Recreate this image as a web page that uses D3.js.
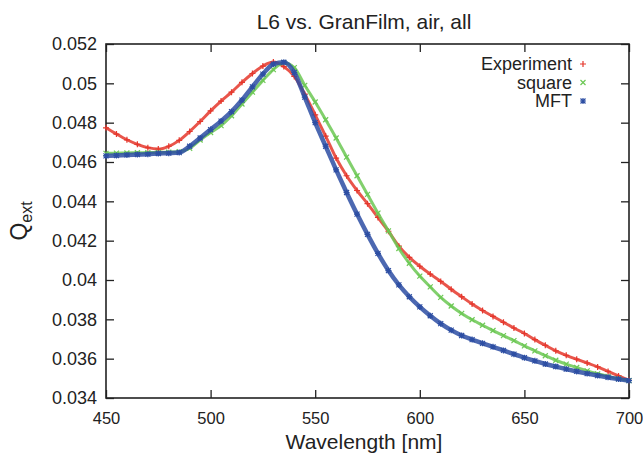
<!DOCTYPE html>
<html>
<head>
<meta charset="utf-8">
<script src="https://cdn.jsdelivr.net/npm/d3@7"></script>
<style>
  body { margin: 0; background: #fff; }
  text { font-family: "Liberation Sans", Arial, Helvetica, sans-serif; fill: #222; }
</style>
</head>
<body>
<div id="chart"></div>
<script>
// wavelengths (nm), one reading every 5 nm
var wavelengths = [450,455,460,465,470,475,480,485,490,495,500,505,510,515,520,525,530,535,540,545,
  550,555,560,565,570,575,580,585,590,595,600,605,610,615,620,625,630,635,640,645,
  650,655,660,665,670,675,680,685,690,695,700];

var experiment = [0.04774,0.04742,0.04713,0.04690,0.04673,0.04666,0.04680,0.04710,0.04755,0.04806,
  0.04860,0.04910,0.04955,0.05005,0.05050,0.05088,0.05108,0.05085,0.05035,0.04945,
  0.04840,0.04732,0.04620,0.04530,0.04455,0.04388,0.04318,0.04248,0.04172,0.04115,
  0.04070,0.04030,0.03993,0.03953,0.03915,0.03878,0.03845,0.03815,0.03785,0.03756,
  0.03728,0.03697,0.03668,0.03640,0.03617,0.03597,0.03578,0.03558,0.03535,0.03512,0.03490];

var square = [0.04644,0.04645,0.04646,0.04647,0.04648,0.04649,0.04650,0.04652,0.04670,0.04712,
  0.04750,0.04785,0.04835,0.04895,0.04955,0.05015,0.05070,0.05105,0.05080,0.04990,
  0.04905,0.04815,0.04722,0.04625,0.04530,0.04435,0.04340,0.04250,0.04160,0.04085,
  0.04020,0.03965,0.03912,0.03868,0.03830,0.03798,0.03770,0.03743,0.03717,0.03692,
  0.03665,0.03640,0.03615,0.03592,0.03572,0.03555,0.03538,0.03523,0.03510,0.03498,0.03488];

var mft = [0.04631,0.04633,0.04636,0.04638,0.04640,0.04643,0.04645,0.04648,0.04680,0.04722,
  0.04765,0.04808,0.04856,0.04915,0.04982,0.05047,0.05098,0.05107,0.05055,0.04930,
  0.04800,0.04680,0.04560,0.04445,0.04335,0.04232,0.04135,0.04048,0.03975,0.03915,
  0.03863,0.03818,0.03778,0.03745,0.03718,0.03697,0.03678,0.03660,0.03642,0.03623,
  0.03605,0.03589,0.03573,0.03560,0.03547,0.03535,0.03524,0.03514,0.03505,0.03496,0.03488];

var xTicks = [450,500,550,600,650,700];
var yTicks = [0.034,0.036,0.038,0.04,0.042,0.044,0.046,0.048,0.05,0.052];

var seriesNames = ["Experiment","square","MFT"];
var seriesColors = ["#e5372c","#6cc854","#2d4ea3"];
var seriesMarks = ["plus","cross","star"];

// size of the graph
var margin = {top: 44, right: 14, bottom: 60, left: 106},
    width = 643 - margin.left - margin.right,
    height = 458 - margin.top - margin.bottom;

var svg = d3.select("#chart")
  .append("svg")
  .attr("width", 643)
  .attr("height", 458);

var g = svg.append("g")
  .attr("transform", "translate(" + margin.left + "," + margin.top + ")");

var x = d3.scaleLinear().domain([450, 700]).range([0, width]);
var y = d3.scaleLinear().domain([0.034, 0.052]).range([height, 0]);

// axes, gnuplot style: inward ticks on all four sides
var fmt = d3.format("~g");
var xAxis = g.append("g")
  .attr("transform", "translate(0," + height + ")")
  .call(d3.axisBottom(x).tickValues(xTicks).tickFormat(fmt).tickSizeInner(-8).tickSizeOuter(0).tickPadding(14));
var yAxis = g.append("g")
  .call(d3.axisLeft(y).tickValues(yTicks).tickFormat(fmt).tickSizeInner(-8).tickSizeOuter(0).tickPadding(9));
g.append("g")
  .call(d3.axisTop(x).tickValues(xTicks).tickFormat("").tickSizeInner(-8).tickSizeOuter(0));
g.append("g")
  .attr("transform", "translate(" + width + ",0)")
  .call(d3.axisRight(y).tickValues(yTicks).tickFormat("").tickSizeInner(-8).tickSizeOuter(0));

g.selectAll(".domain").remove();
g.selectAll(".tick line").attr("stroke", "#222").attr("stroke-width", 1.3);
yAxis.selectAll(".tick text").style("font-size", "18px").style("fill", "#222");
xAxis.selectAll(".tick text").style("font-size", "16.5px").style("fill", "#222");

g.append("rect")
  .attr("width", width)
  .attr("height", height)
  .attr("fill", "none")
  .attr("stroke", "#222")
  .attr("stroke-width", 1.6);

// marker shapes
var markPath = {
  plus: "M-3,0H3M0,-3V3",
  cross: "M-2.5,-2.5L2.5,2.5M-2.5,2.5L2.5,-2.5",
  star: "M-3,0H3M0,-3V3M-2.5,-2.5L2.5,2.5M-2.5,2.5L2.5,-2.5"
};

var series = [experiment, square, mft];
var line = d3.line()
  .x(function(d, i) { return x(wavelengths[i]); })
  .y(function(d) { return y(d); })
  .curve(d3.curveMonotoneX);

series.forEach(function(vals, s) {
  g.append("path")
    .datum(vals)
    .attr("d", line)
    .attr("fill", "none")
    .attr("stroke", seriesColors[s])
    .attr("stroke-width", s == 2 ? 4.5 : 3)
    .attr("stroke-opacity", 0.85);
  g.selectAll(".mk" + s)
    .data(vals)
    .enter()
    .append("path")
    .attr("class", "mk" + s)
    .attr("transform", function(d, i) { return "translate(" + x(wavelengths[i]) + "," + y(d) + ")"; })
    .attr("d", markPath[seriesMarks[s]])
    .attr("stroke", seriesColors[s])
    .attr("stroke-width", 1.2)
    .attr("fill", "none");
});

// legend
var legend = svg.append("g");
seriesNames.forEach(function(name, i) {
  var ly = 64 + i * 18.5;
  legend.append("text")
    .attr("x", 572)
    .attr("y", ly)
    .attr("dy", "0.35em")
    .attr("text-anchor", "end")
    .style("font-size", "18px")
    .text(name);
  legend.append("path")
    .attr("transform", "translate(583," + ly + ")")
    .attr("d", markPath[seriesMarks[i]])
    .attr("stroke", seriesColors[i])
    .attr("stroke-width", 1.2)
    .attr("fill", "none");
});

// title and axis labels
svg.append("text")
  .attr("x", 364)
  .attr("y", 29)
  .attr("text-anchor", "middle")
  .style("font-size", "21px")
  .text("L6 vs. GranFilm, air, all");

svg.append("text")
  .attr("x", 364)
  .attr("y", 449)
  .attr("text-anchor", "middle")
  .style("font-size", "21px")
  .text("Wavelength [nm]");

var ylab = svg.append("text")
  .attr("transform", "translate(27,221) rotate(-90)")
  .attr("text-anchor", "middle")
  .style("font-size", "23px");
ylab.append("tspan").text("Q");
ylab.append("tspan").attr("dy", 5).style("font-size", "16px").text("ext");
</script>
</body>
</html>
